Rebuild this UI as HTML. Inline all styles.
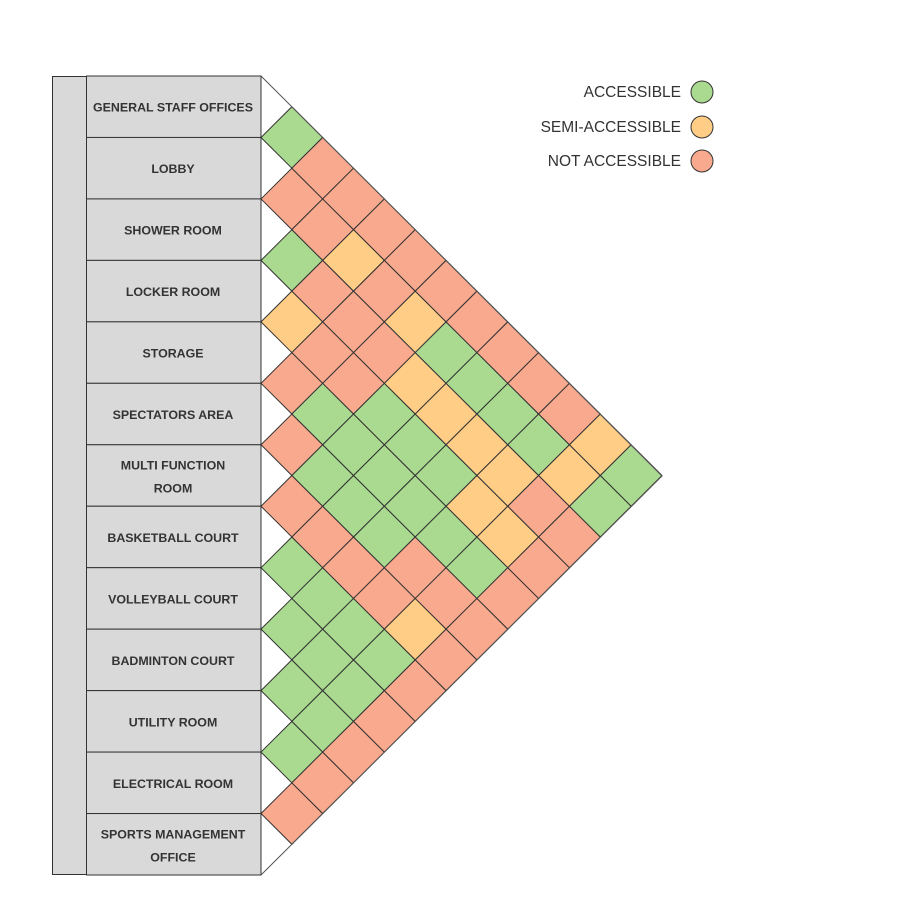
<!DOCTYPE html>
<html><head><meta charset="utf-8"><style>
body{margin:0;background:#fff;width:911px;height:909px;overflow:hidden}
svg{position:absolute;left:0;top:0}
</style></head><body>
<svg id="s" width="911" height="909" xmlns="http://www.w3.org/2000/svg" font-family="Liberation Sans, sans-serif">
<rect x="52.5" y="76.5" width="34" height="798" fill="#d9d9d9" stroke="#333"/>
<g id="rows"></g>
<g id="cells"></g>
<polyline points="261,76 662,476 261,875" fill="none" stroke="#555" stroke-width="1"/>
<g font-size="15.5" fill="#333" text-anchor="end">
<text x="681" y="97">ACCESSIBLE</text>
<text x="681" y="132">SEMI-ACCESSIBLE</text>
<text x="681" y="166">NOT ACCESSIBLE</text>
</g>
<circle cx="702" cy="92" r="11" fill="#aad990" stroke="#333"/>
<circle cx="702" cy="127" r="11" fill="#ffcd85" stroke="#333"/>
<circle cx="702" cy="161" r="11" fill="#f9a98d" stroke="#333"/>
</svg>
<script>
var labels=[["GENERAL STAFF OFFICES"],["LOBBY"],["SHOWER ROOM"],["LOCKER ROOM"],["STORAGE"],["SPECTATORS AREA"],["MULTI FUNCTION","ROOM"],["BASKETBALL COURT"],["VOLLEYBALL COURT"],["BADMINTON COURT"],["UTILITY ROOM"],["ELECTRICAL ROOM"],["SPORTS MANAGEMENT","OFFICE"]];
var top0=76,rh=799/13,dx=401/13;
var rows=document.getElementById("rows"),h="";
var fs='font-size="12.4" font-weight="bold" fill="#333" text-anchor="middle"';
for(var i=0;i<13;i++){var y=top0+rh*i;
h+='<rect x="86.5" y="'+y+'" width="174.5" height="'+rh+'" fill="#d9d9d9" stroke="#333"/>';
var c=y+rh/2,L=labels[i];
if(L.length==1)h+='<text x="173" y="'+(c+5)+'" '+fs+'>'+L[0]+'</text>';
else{h+='<text x="173" y="'+(c-6)+'" '+fs+'>'+L[0]+'</text>';
h+='<text x="173" y="'+(c+17)+'" '+fs+'>'+L[1]+'</text>';}}
rows.innerHTML=h;
var cols=["GRGYRRRGGGGR","RRRRGGRGGGR","RYRRGGRGGR","RRRGGGRGR","RYYGGRYR","RGYGGRR","RGYYGR","RGYYR","RGRR","RYR","YG","G"];
var col={G:"#aad990",Y:"#ffcd85",R:"#f9a98d"},g="";
for(var k=1;k<=12;k++){var s=cols[k-1];for(var i=0;i<s.length;i++){var cx=261+k*dx,cy=top0+rh/2*(2*i+k+1),hy=rh/2;
g+='<polygon points="'+(cx-dx)+','+cy+' '+cx+','+(cy-hy)+' '+(cx+dx)+','+cy+' '+cx+','+(cy+hy)+'" fill="'+col[s[i]]+'" stroke="#333" stroke-width="1"/>';}}
document.getElementById("cells").innerHTML=g;
</script>
</body></html>
